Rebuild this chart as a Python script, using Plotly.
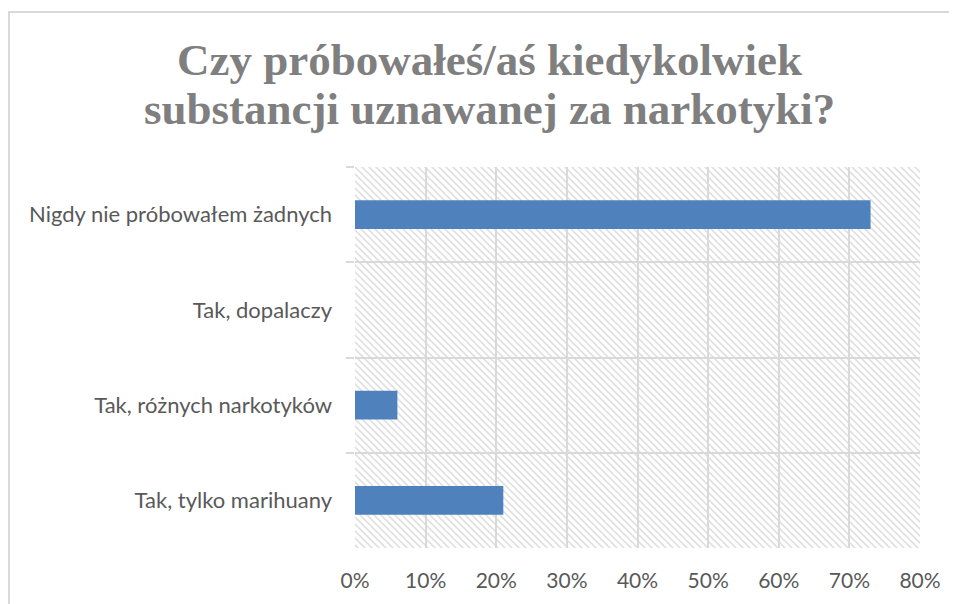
import base64
import plotly.graph_objects as go

categories = ["Nigdy nie próbowałem żadnych", "Tak, dopalaczy",
              "Tak, różnych narkotyków", "Tak, tylko marihuany"]
values = [0.73, 0.0, 0.06, 0.21]
x_ticks = [0, 0.1, 0.2, 0.3, 0.4, 0.5, 0.6, 0.7, 0.8]
title_lines = ["Czy próbowałeś/aś kiedykolwiek", "substancji uznawanej za narkotyki?"]

OFF = 8  # default page body margin
W, H = 957 - OFF, 604 - OFF
L, R, T, B = 355 - OFF, 920 - OFF, 167 - OFF, 548 - OFF
pw, ph = R - L, B - T

svg = (f"<svg xmlns='http://www.w3.org/2000/svg' width='{pw}' height='{ph}'>"
       "<defs><pattern id='p' width='7' height='7' patternUnits='userSpaceOnUse'>"
       "<path d='M0,0 L7,7 M-1,6 L1,8 M6,-1 L8,1' stroke='#e0e0e0' stroke-width='1.6'/>"
       "</pattern></defs><rect width='100%' height='100%' fill='url(#p)'/></svg>")
src = "data:image/svg+xml;base64," + base64.b64encode(svg.encode()).decode()


def px_x(p):
    return (p - OFF - L) / pw


def px_y(p):
    return (B - (p - OFF)) / ph


fig = go.Figure()
fig.add_trace(go.Bar(
    y=categories, x=values, orientation="h",
    marker=dict(color="#4f81bd", line=dict(width=0)),
))

title_font = dict(family="Liberation Serif", size=45, color="#7f7f7f", weight="bold")
annotations = [
    dict(text=title_lines[0], xref="paper", yref="paper", x=px_x(489.5), y=px_y(59.5),
         xanchor="center", yanchor="middle", showarrow=False, font=title_font),
    dict(text=title_lines[1], xref="paper", yref="paper", x=px_x(489.5), y=px_y(109.5),
         xanchor="center", yanchor="middle", showarrow=False, font=title_font),
]

fig.update_layout(
    width=W, height=H,
    margin=dict(l=L, r=W - R, t=T, b=H - B),
    paper_bgcolor="white", plot_bgcolor="white",
    bargap=0.7,
    showlegend=False,
    annotations=annotations,
    xaxis=dict(range=[0, 0.8], tickvals=x_ticks, tickformat=".0%",
               showgrid=True, gridcolor="#d9d9d9", gridwidth=2,
               zeroline=False, showline=False, ticks="",
               ticklabelstandoff=18,
               tickfont=dict(family="Lato", size=21, color="#595959")),
    yaxis=dict(categoryorder="array", categoryarray=categories, autorange="reversed",
               tickson="boundaries", ticks="outside", ticklen=8, tickcolor="#d9d9d9",
               tickwidth=2,
               showgrid=True, gridcolor="#d9d9d9", gridwidth=2,
               zeroline=False, showline=False,
               ticklabelstandoff=22,
               tickfont=dict(family="Lato", size=22, color="#595959")),
    images=[dict(source=src, xref="paper", yref="paper", x=0, y=1,
                 sizex=1, sizey=1, sizing="stretch", xanchor="left", yanchor="top",
                 layer="below")],
    shapes=[dict(type="rect", xref="paper", yref="paper",
                 x0=px_x(9), x1=px_x(990), y0=px_y(12), y1=px_y(650),
                 line=dict(color="#d9d9d9", width=2), fillcolor="rgba(0,0,0,0)",
                 layer="below")],
)

fig.write_html("out.html")
